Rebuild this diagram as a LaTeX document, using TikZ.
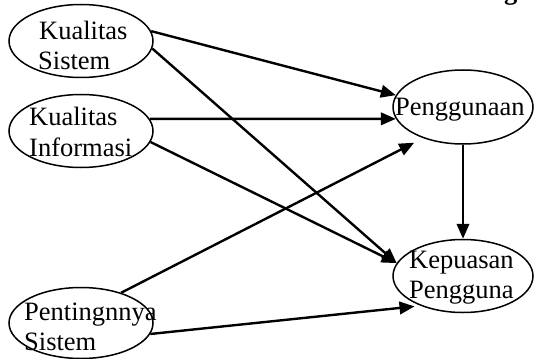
\documentclass[tikz,border=0pt]{standalone}
\usepackage{fontspec}
\setmainfont{Liberation Serif}
\usetikzlibrary{shapes.geometric,arrows.meta}
\tikzset{
  oval/.style={draw, ellipse, line width=1.5pt, inner sep=0pt},
  lbl/.style={anchor=base west, inner sep=0pt, font=\fontsize{26.5}{30}\selectfont},
  conn/.style={line width=2.4pt, -{Triangle[length=15pt,width=12.5pt]}}
}
\begin{document}
\begin{tikzpicture}[x=1pt,y=-1pt]
\useasboundingbox (0,0) rectangle (534,358);
% ellipses
\node[oval, minimum width=144pt, minimum height=73pt] (ks) at (81,41) {};
\node[oval, minimum width=144pt, minimum height=73pt] (ki) at (81,131) {};
\node[oval, minimum width=144pt, minimum height=71pt] (ps) at (81,323) {};
\node[oval, minimum width=140pt, minimum height=74pt] (pg) at (463,107) {};
\node[oval, minimum width=140pt, minimum height=73pt] (kp) at (463,276) {};
% texts
\node[lbl] (ks1) at (39,40) {Kualitas};
\node[lbl] (ks2) at (38,70) {Sistem};
\node[lbl] (ki1) at (29,126) {Kualitas};
\node[lbl] (ki2) at (29,156) {Informasi};
\node[lbl] (pg1) at (395,116) {Penggunaan};
\node[lbl] (kp1) at (409,268) {Kepuasan};
\node[lbl] (kp2) at (409,298) {Pengguna};
\node[lbl] (ps1) at (24,320) {Pentingnnya};
\node[lbl] (ps2) at (24,350) {Sistem};
\node[lbl, font=\fontsize{26.5}{30}\selectfont\bfseries] (frag) at (504,0) {g};
% connectors
\draw[conn] (ks.8) -- (pg.170);
\draw[conn] (ks.-6) -- (kp.169);
\draw[conn] (ki.10) -- (pg.190);
\draw[conn] (ki.-9.5) -- (kp.169);
\draw[conn, shorten >=10pt] (ps.37) -- (pg.218);
\draw[conn, shorten >=6pt] (ps.-9) -- (kp.215);
\draw[conn] (pg.south) -- (kp.north);
\end{tikzpicture}
\end{document}
